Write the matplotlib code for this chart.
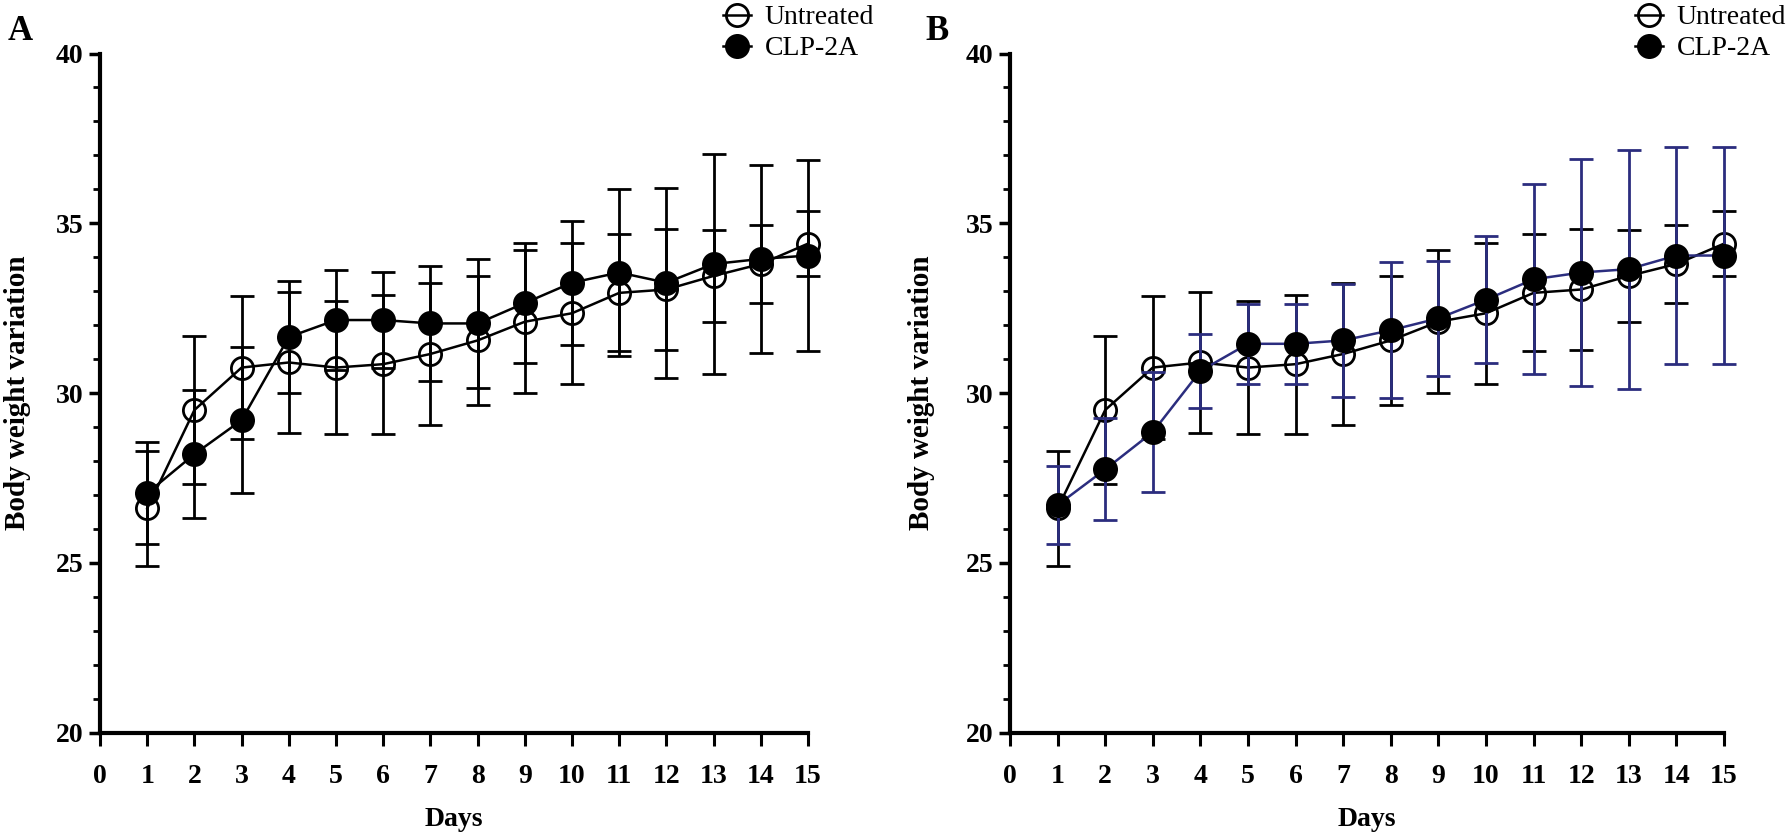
import numpy as np
import matplotlib
matplotlib.use("Agg")
import matplotlib.pyplot as plt
from matplotlib.lines import Line2D

plt.rcParams['font.family'] = ['Liberation Serif', 'DejaVu Serif']

days = [1, 2, 3, 4, 5, 6, 7, 8, 9, 10, 11, 12, 13, 14, 15]

# Panel A
untreated_A = [26.6, 29.5, 30.75, 30.9, 30.75, 30.85, 31.15, 31.55, 32.1, 32.35, 32.95, 33.05, 33.45, 33.8, 34.4]
untreated_A_err = [1.7, 2.17, 2.1, 2.08, 1.97, 2.05, 2.08, 1.9, 2.1, 2.07, 1.72, 1.78, 1.35, 1.15, 0.95]
clp_A = [27.05, 28.2, 29.2, 31.65, 32.15, 32.15, 32.05, 32.05, 32.65, 33.25, 33.55, 33.25, 33.8, 33.95, 34.05]
clp_A_err = [1.5, 1.88, 2.15, 1.65, 1.48, 1.42, 1.7, 1.9, 1.78, 1.83, 2.47, 2.8, 3.25, 2.77, 2.8]

# Panel B
untreated_B = [26.6, 29.5, 30.75, 30.9, 30.75, 30.85, 31.15, 31.55, 32.1, 32.35, 32.95, 33.05, 33.45, 33.8, 34.4]
untreated_B_err = [1.7, 2.17, 2.1, 2.08, 1.97, 2.05, 2.08, 1.9, 2.1, 2.07, 1.72, 1.78, 1.35, 1.15, 0.95]
clp_B = [26.7, 27.75, 28.85, 30.65, 31.45, 31.45, 31.55, 31.85, 32.2, 32.75, 33.35, 33.55, 33.65, 34.05, 34.05]
clp_B_err = [1.15, 1.5, 1.77, 1.08, 1.18, 1.17, 1.67, 2.0, 1.7, 1.88, 2.8, 3.33, 3.52, 3.2, 3.2]

labels = ['Untreated', 'CLP-2A']
navy = '#2b2d7e'

fig = plt.figure(figsize=(17.86, 8.39), dpi=100)
axA = fig.add_axes([0.0560, 0.1269, 0.3964, 0.8093])
axB = fig.add_axes([0.5655, 0.1269, 0.3998, 0.8093])


def unclip(cont):
    line, caps, bars = cont.lines
    line.set_clip_on(False)
    for c in caps:
        c.set_clip_on(False)
    for b in bars:
        b.set_clip_on(False)


def draw(ax, unt, unt_err, clp, clp_err, clp_color):
    e1 = ax.errorbar(days, unt, yerr=unt_err, color='black', lw=1.8, elinewidth=2,
                     capsize=8.5, capthick=2, marker='o', ms=16, mfc='none',
                     mec='black', mew=2, zorder=3)
    e2 = ax.errorbar(days, clp, yerr=clp_err, color=clp_color, lw=1.8, elinewidth=2,
                     capsize=8.5, capthick=2, marker='o', ms=16, mfc='black',
                     mec='black', mew=2, zorder=4)
    unclip(e1)
    unclip(e2)
    ax.set_xlim(0, 15)
    ax.set_ylim(20, 40)
    ax.set_xticks(range(0, 16))
    ax.set_yticks([20, 25, 30, 35, 40])
    ax.set_yticks(np.arange(20, 41, 1), minor=True)
    for s in ['top', 'right']:
        ax.spines[s].set_visible(False)
    for s in ['left', 'bottom']:
        ax.spines[s].set_linewidth(3)
    ax.tick_params(axis='x', direction='out', length=9, width=2.2, pad=14, labelsize=20)
    ax.tick_params(axis='y', which='major', direction='out', length=8, width=2.5, pad=4, labelsize=20)
    ax.tick_params(axis='y', which='minor', direction='out', length=5, width=2)
    for t in ax.get_xticklabels() + ax.get_yticklabels():
        t.set_fontweight('bold')
    ax.set_xlabel('Days', fontsize=20, fontweight='bold')
    ax.set_ylabel('Body weight variation', fontsize=21, fontweight='bold')
    ax.xaxis.set_label_coords(0.5, -0.11)


draw(axA, untreated_A, untreated_A_err, clp_A, clp_A_err, 'black')
draw(axB, untreated_B, untreated_B_err, clp_B, clp_B_err, navy)
axA.yaxis.set_label_coords(-0.097, 0.5)
axB.yaxis.set_label_coords(-0.105, 0.5)

handles = [Line2D([], [], color='black', lw=1.8, marker='o', ms=16, mfc='none', mec='black', mew=2),
           Line2D([], [], color='black', lw=1.8, marker='o', ms=16, mfc='black', mec='black', mew=2)]
for ax, x0 in [(axA, 0.4048), (axB, 0.9155)]:
    ax.legend(handles, labels, loc='upper left', bbox_to_anchor=(x0, 0.994),
              bbox_transform=fig.transFigure, frameon=False, fontsize=20,
              handlelength=1.0, handletextpad=0.5, labelspacing=0.2,
              borderpad=0, borderaxespad=0)

fig.text(0.004, 0.952, 'A', fontsize=25, fontweight='bold')
fig.text(0.518, 0.952, 'B', fontsize=25, fontweight='bold')

fig.savefig('out.png', dpi=100)
